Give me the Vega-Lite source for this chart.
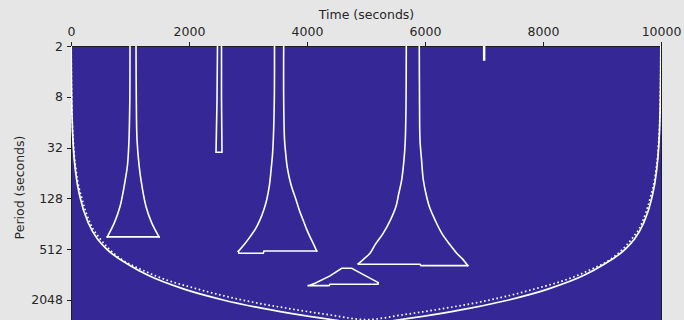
{
  "$schema": "https://vega.github.io/schema/vega-lite/v6.json",
  "width": 590,
  "height": 274,
  "autosize": {"type": "none"},
  "padding": {"left": 71, "top": 46, "right": 23, "bottom": 0},
  "background": "#e6e6e7",
  "config": {
    "view": {"fill": "#352896", "stroke": "#1e1e1e", "strokeWidth": 1},
    "font": "DejaVu Sans",
    "axis": {"labelFont": "DejaVu Sans", "titleFont": "DejaVu Sans", "labelColor": "#262626", "titleColor": "#262626", "titleFontWeight": "normal", "domainColor": "#1e1e1e", "tickColor": "#1e1e1e", "grid": false}
  },
  "datasets": {
    "flares": [
      {"id": "c1L", "i": 0, "t": 1000, "p": 2},
      {"id": "c1L", "i": 1, "t": 997, "p": 8.63},
      {"id": "c1L", "i": 2, "t": 983, "p": 25.8},
      {"id": "c1L", "i": 3, "t": 958, "p": 51.1},
      {"id": "c1L", "i": 4, "t": 920, "p": 77},
      {"id": "c1L", "i": 5, "t": 831, "p": 159.8},
      {"id": "c1L", "i": 6, "t": 734, "p": 249.5},
      {"id": "c1L", "i": 7, "t": 615, "p": 365.8},
      {"id": "c1R", "i": 0, "t": 1492, "p": 365.8},
      {"id": "c1R", "i": 1, "t": 1368, "p": 249.5},
      {"id": "c1R", "i": 2, "t": 1271, "p": 159.8},
      {"id": "c1R", "i": 3, "t": 1186, "p": 77},
      {"id": "c1R", "i": 4, "t": 1153, "p": 51.1},
      {"id": "c1R", "i": 5, "t": 1119, "p": 25.8},
      {"id": "c1R", "i": 6, "t": 1107, "p": 8.63},
      {"id": "c1R", "i": 7, "t": 1102, "p": 2},
      {"id": "c3L", "i": 0, "t": 3449, "p": 2},
      {"id": "c3L", "i": 1, "t": 3446, "p": 8.63},
      {"id": "c3L", "i": 2, "t": 3429, "p": 25.8},
      {"id": "c3L", "i": 3, "t": 3415, "p": 38.9},
      {"id": "c3L", "i": 4, "t": 3395, "p": 55.4},
      {"id": "c3L", "i": 5, "t": 3364, "p": 88.3},
      {"id": "c3L", "i": 6, "t": 3317, "p": 133},
      {"id": "c3L", "i": 7, "t": 3263, "p": 179.6},
      {"id": "c3L", "i": 8, "t": 3203, "p": 229.8},
      {"id": "c3L", "i": 9, "t": 3127, "p": 293.9},
      {"id": "c3L", "i": 10, "t": 3034, "p": 365.8},
      {"id": "c3L", "i": 11, "t": 2932, "p": 455},
      {"id": "c3L", "i": 12, "t": 2836, "p": 543.8},
      {"id": "c3R", "i": 0, "t": 4164, "p": 538},
      {"id": "c3R", "i": 1, "t": 4109, "p": 443},
      {"id": "c3R", "i": 2, "t": 4051, "p": 365.8},
      {"id": "c3R", "i": 3, "t": 3991, "p": 293.9},
      {"id": "c3R", "i": 4, "t": 3932, "p": 229.8},
      {"id": "c3R", "i": 5, "t": 3873, "p": 179.6},
      {"id": "c3R", "i": 6, "t": 3814, "p": 133},
      {"id": "c3R", "i": 7, "t": 3729, "p": 88.3},
      {"id": "c3R", "i": 8, "t": 3666, "p": 55.4},
      {"id": "c3R", "i": 9, "t": 3641, "p": 38.9},
      {"id": "c3R", "i": 10, "t": 3619, "p": 25.8},
      {"id": "c3R", "i": 11, "t": 3605, "p": 8.63},
      {"id": "c3R", "i": 12, "t": 3605, "p": 2},
      {"id": "c4L", "i": 0, "t": 5683, "p": 2},
      {"id": "c4L", "i": 1, "t": 5679, "p": 8.63},
      {"id": "c4L", "i": 2, "t": 5666, "p": 25.8},
      {"id": "c4L", "i": 3, "t": 5644, "p": 44.5},
      {"id": "c4L", "i": 4, "t": 5605, "p": 77},
      {"id": "c4L", "i": 5, "t": 5551, "p": 116},
      {"id": "c4L", "i": 6, "t": 5508, "p": 159.8},
      {"id": "c4L", "i": 7, "t": 5415, "p": 229.8},
      {"id": "c4L", "i": 8, "t": 5293, "p": 330.6},
      {"id": "c4L", "i": 9, "t": 5153, "p": 455},
      {"id": "c4L", "i": 10, "t": 5068, "p": 571.3},
      {"id": "c4L", "i": 11, "t": 4966, "p": 667.6},
      {"id": "c4L", "i": 12, "t": 4869, "p": 765.4},
      {"id": "c4R", "i": 0, "t": 6724, "p": 801.8},
      {"id": "c4R", "i": 1, "t": 6635, "p": 667.6},
      {"id": "c4R", "i": 2, "t": 6537, "p": 571.3},
      {"id": "c4R", "i": 3, "t": 6424, "p": 455},
      {"id": "c4R", "i": 4, "t": 6283, "p": 330.6},
      {"id": "c4R", "i": 5, "t": 6169, "p": 229.8},
      {"id": "c4R", "i": 6, "t": 6073, "p": 159.8},
      {"id": "c4R", "i": 7, "t": 6020, "p": 116},
      {"id": "c4R", "i": 8, "t": 5971, "p": 77},
      {"id": "c4R", "i": 9, "t": 5941, "p": 44.5},
      {"id": "c4R", "i": 10, "t": 5915, "p": 25.8},
      {"id": "c4R", "i": 11, "t": 5907, "p": 8.63},
      {"id": "c4R", "i": 12, "t": 5903, "p": 2}
    ],
    "edges": [
      {"id": "c1B", "i": 0, "t": 615, "p": 365.8},
      {"id": "c1B", "i": 1, "t": 1492, "p": 365.8},
      {"id": "c2", "i": 0, "t": 2483, "p": 2},
      {"id": "c2", "i": 1, "t": 2475, "p": 8.63},
      {"id": "c2", "i": 2, "t": 2458, "p": 36.3},
      {"id": "c2", "i": 3, "t": 2559, "p": 36.3},
      {"id": "c2", "i": 4, "t": 2551, "p": 8.63},
      {"id": "c2", "i": 5, "t": 2551, "p": 2},
      {"id": "c3B", "i": 0, "t": 2836, "p": 543.8},
      {"id": "c3B", "i": 1, "t": 2847, "p": 571.3},
      {"id": "c3B", "i": 2, "t": 3259, "p": 571.3},
      {"id": "c3B", "i": 3, "t": 3271, "p": 538},
      {"id": "c3B", "i": 4, "t": 4164, "p": 538},
      {"id": "c4B", "i": 0, "t": 4869, "p": 765.4},
      {"id": "c4B", "i": 1, "t": 4873, "p": 771.7},
      {"id": "c4B", "i": 2, "t": 5915, "p": 771.7},
      {"id": "c4B", "i": 3, "t": 5932, "p": 801.8},
      {"id": "c4B", "i": 4, "t": 6724, "p": 801.8},
      {"id": "c5", "i": 0, "t": 4022, "p": 1385},
      {"id": "c5", "i": 1, "t": 4136, "p": 1297},
      {"id": "c5", "i": 2, "t": 4390, "p": 1062.6},
      {"id": "c5", "i": 3, "t": 4588, "p": 861},
      {"id": "c5", "i": 4, "t": 4758, "p": 861},
      {"id": "c5", "i": 5, "t": 4932, "p": 1006},
      {"id": "c5", "i": 6, "t": 5208, "p": 1277},
      {"id": "c5", "i": 7, "t": 5203, "p": 1333},
      {"id": "c5", "i": 8, "t": 4390, "p": 1333},
      {"id": "c5", "i": 9, "t": 4373, "p": 1385},
      {"id": "c5", "i": 10, "t": 4022, "p": 1385},
      {"id": "c6", "i": 0, "t": 6995, "p": 2},
      {"id": "c6", "i": 1, "t": 6995, "p": 2.93},
      {"id": "c6", "i": 2, "t": 7010, "p": 2.93},
      {"id": "c6", "i": 3, "t": 7010, "p": 2}
    ],
    "coi": [
      {"t": 2.5, "p": 2}, {"t": 5, "p": 4}, {"t": 10, "p": 8}, {"t": 20, "p": 16}, {"t": 40, "p": 32},
      {"t": 80, "p": 64}, {"t": 158, "p": 128}, {"t": 300, "p": 256}, {"t": 460, "p": 397}, {"t": 605, "p": 512},
      {"t": 1000, "p": 800}, {"t": 1280, "p": 1024}, {"t": 1930, "p": 1536}, {"t": 2580, "p": 2048},
      {"t": 3230, "p": 2560}, {"t": 3880, "p": 3072}, {"t": 4530, "p": 3584}, {"t": 5000, "p": 3950},
      {"t": 5470, "p": 3584}, {"t": 6120, "p": 3072}, {"t": 6770, "p": 2560}, {"t": 7420, "p": 2048},
      {"t": 8070, "p": 1536}, {"t": 8720, "p": 1024}, {"t": 9000, "p": 800}, {"t": 9395, "p": 512},
      {"t": 9540, "p": 397}, {"t": 9700, "p": 256}, {"t": 9842, "p": 128}, {"t": 9920, "p": 64},
      {"t": 9960, "p": 32}, {"t": 9980, "p": 16}, {"t": 9990, "p": 8}, {"t": 9995, "p": 4}, {"t": 9997.5, "p": 2}
    ],
    "coi95": [
      {"t": 2.9, "p": 2}, {"t": 5.8, "p": 4}, {"t": 11.5, "p": 8}, {"t": 23, "p": 16}, {"t": 46, "p": 32},
      {"t": 92, "p": 64}, {"t": 185, "p": 128}, {"t": 330, "p": 256}, {"t": 508, "p": 397}, {"t": 660, "p": 522},
      {"t": 870, "p": 686}, {"t": 1180, "p": 885}, {"t": 1480, "p": 1092}, {"t": 2170, "p": 1536},
      {"t": 2900, "p": 2048}, {"t": 3650, "p": 2560}, {"t": 4380, "p": 3072}, {"t": 5000, "p": 3500},
      {"t": 5620, "p": 3072}, {"t": 6350, "p": 2560}, {"t": 7100, "p": 2048}, {"t": 7830, "p": 1536},
      {"t": 8520, "p": 1092}, {"t": 8820, "p": 885}, {"t": 9130, "p": 686}, {"t": 9340, "p": 522},
      {"t": 9492, "p": 397}, {"t": 9670, "p": 256}, {"t": 9815, "p": 128}, {"t": 9908, "p": 64},
      {"t": 9954, "p": 32}, {"t": 9977, "p": 16}, {"t": 9988.5, "p": 8}, {"t": 9994.2, "p": 4}, {"t": 9997.1, "p": 2}
    ]
  },
  "encoding": {
    "x": {
      "field": "t", "type": "quantitative",
      "scale": {"domain": [0, 10000], "nice": false, "zero": false},
      "axis": {"orient": "top", "title": "Time (seconds)", "values": [0, 2000, 4000, 6000, 8000, 10000], "format": "d", "labelFlush": false, "labelOverlap": false, "labelFontSize": 12.5, "titleFontSize": 12.5, "tickSize": 4.5, "labelPadding": 3, "titlePadding": 4, "domainWidth": 1.2}
    },
    "y": {
      "field": "p", "type": "quantitative",
      "scale": {"type": "log", "base": 2, "domain": [2, 3538], "nice": false, "reverse": true},
      "axis": {"title": "Period (seconds)", "values": [2, 8, 32, 128, 512, 2048], "format": "d", "labelFontSize": 12.5, "titleFontSize": 12.5, "tickSize": 4.5, "labelPadding": 4, "titleX": -52, "titleY": 141, "titleAngle": -90, "titleAlign": "center", "titleBaseline": "middle", "labelFlush": false, "labelOverlap": false}
    }
  },
  "layer": [
    {
      "data": {"name": "flares"},
      "mark": {"type": "line", "stroke": "white", "strokeWidth": 1.6, "clip": true, "interpolate": "catmull-rom", "strokeCap": "square"},
      "encoding": {"detail": {"field": "id"}, "order": {"field": "i", "type": "quantitative"}}
    },
    {
      "data": {"name": "edges"},
      "mark": {"type": "line", "stroke": "white", "strokeWidth": 1.6, "clip": true, "strokeCap": "square"},
      "encoding": {"detail": {"field": "id"}, "order": {"field": "i", "type": "quantitative"}}
    },
    {
      "data": {"name": "coi"},
      "mark": {"type": "line", "stroke": "white", "strokeWidth": 1.7, "clip": true, "interpolate": "monotone"},
      "encoding": {"order": {"field": "t", "type": "quantitative"}}
    },
    {
      "data": {"name": "coi95"},
      "mark": {"type": "line", "stroke": "white", "strokeWidth": 1.7, "strokeDash": [1.6, 2.6], "clip": true, "interpolate": "monotone"},
      "encoding": {"order": {"field": "t", "type": "quantitative"}}
    }
  ]
}
